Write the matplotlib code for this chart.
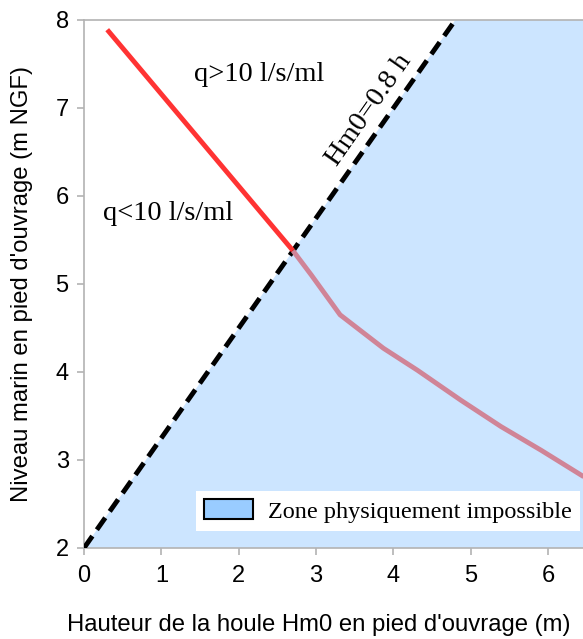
import matplotlib
matplotlib.use("Agg")
import matplotlib.pyplot as plt
from matplotlib.patches import Patch

# Data
limit_x = [0.0, 4.8]
limit_y = [2.0, 8.0]
red_x = [0.30, 2.70]
red_y = [7.89, 5.38]
pink_x = [2.70, 2.94, 3.31, 3.87, 4.31, 4.87, 5.39, 5.91, 6.46]
pink_y = [5.38, 5.10, 4.65, 4.27, 4.02, 3.68, 3.38, 3.11, 2.81]
xticks = [0, 1, 2, 3, 4, 5, 6]
yticks = [2, 3, 4, 5, 6, 7, 8]
xmax = 6.45

fig = plt.figure(figsize=(5.83, 6.39), dpi=100)
ax = fig.add_axes([84/583, 1-548/639, 1-84/583, (548-20)/639])
ax.set_xlim(0, xmax)
ax.set_ylim(2, 8)

# impossible zone
ax.fill([limit_x[0], limit_x[1], xmax, xmax], [limit_y[0], limit_y[1], limit_y[1], limit_y[0]],
        color="#cce5ff", lw=0, zorder=1)
ax.plot(limit_x, limit_y, color="black", lw=3.5, dashes=(3.0, 1.6), zorder=3)
ax.plot(pink_x, pink_y, color="#d08497", lw=3.5, solid_capstyle="butt", zorder=4)
ax.plot(red_x, red_y, color="#ff3333", lw=3.5, solid_capstyle="butt", zorder=4)

serif = ["Liberation Serif", "DejaVu Serif"]
ax.text(1.42, 7.38, "q>10 l/s/ml", family=serif, fontsize=20.5, ha="left", va="center")
ax.text(0.24, 5.80, "q<10 l/s/ml", family=serif, fontsize=20.5, ha="left", va="center")
ax.text(3.68, 6.98, "Hm0=0.8 h", family=serif, fontsize=20.5, ha="center", va="center", rotation=55)

ax.set_xticks(xticks)
ax.set_yticks(yticks)
sans = ["Liberation Sans", "DejaVu Sans"]
for lab in ax.get_xticklabels() + ax.get_yticklabels():
    lab.set_family(sans)
    lab.set_fontsize(17)
ax.tick_params(axis="both", direction="out", length=5, color="#b3b3b3", width=1.2)
ax.tick_params(axis="x", pad=7)
ax.tick_params(axis="y", pad=6)
for s in ["left", "bottom", "top"]:
    ax.spines[s].set_color("#b3b3b3")
    ax.spines[s].set_linewidth(1.2)
ax.spines["right"].set_visible(False)

fig.text(319/583, 1-625/639, "Hauteur de la houle Hm0 en pied d'ouvrage (m)",
         family=sans, fontsize=17.2, ha="center", va="center")
ax.set_ylabel("Niveau marin en pied d'ouvrage (m NGF)", family=sans, fontsize=17.2, labelpad=16)

h = Patch(facecolor="#99ccff", edgecolor="black", lw=1.5)
leg = ax.legend([h], ["Zone physiquement impossible"], loc="lower right",
                bbox_to_anchor=(6.41, 2.19), bbox_transform=ax.transData,
                prop={"family": serif, "size": 17.5}, frameon=True, fancybox=False,
                framealpha=1, edgecolor="white", borderpad=0.35, handlelength=2.0,
                handleheight=0.9, handletextpad=0.6, borderaxespad=0)
leg.get_frame().set_linewidth(0)

fig.savefig("out.png", dpi=100)
